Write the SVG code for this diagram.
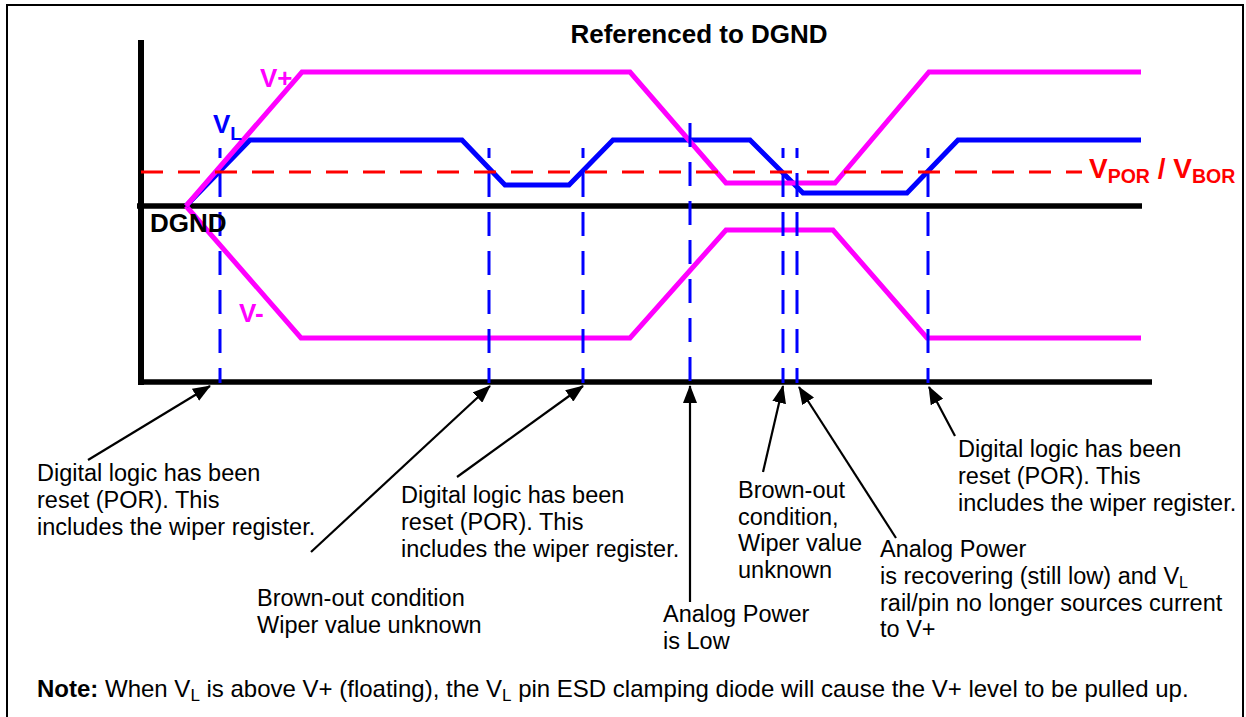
<svg xmlns="http://www.w3.org/2000/svg" width="1246" height="717" viewBox="0 0 1246 717">
<style>
text{font-family:"Liberation Sans",Arial,sans-serif;}
.lbl{font-size:26px;font-weight:bold;}
.ann{font-size:23.5px;fill:#000;}
.ax{stroke:#000;stroke-width:5.5;fill:none;}
.vp{stroke:#FF00FF;stroke-width:5;fill:none;stroke-linejoin:miter;}
.vl{stroke:#0000FF;stroke-width:5;fill:none;stroke-linejoin:miter;}
.mark{stroke:#0000FF;stroke-width:3;stroke-dasharray:24 15;fill:none;}
.thr{stroke:#FF0000;stroke-width:3;stroke-dasharray:22 15;fill:none;}
.arr{stroke:#000;stroke-width:2.2;fill:none;marker-end:url(#ah);}
</style>
<defs>
<marker id="ah" markerWidth="18" markerHeight="14" refX="17" refY="7" orient="auto" markerUnits="userSpaceOnUse"><path d="M0,0 L18,7 L0,14 z" fill="#000"/></marker>
</defs>
<rect x="0" y="0" width="1246" height="717" fill="#fff"/>
<rect id="frame" x="7" y="5" width="1236" height="730" fill="none" stroke="#000" stroke-width="2"/>

<g id="axes">
<line class="ax" x1="141" y1="40" x2="141" y2="385" style="stroke-width:6"/>
<line class="ax" x1="137" y1="206" x2="1142" y2="206"/>
<line class="ax" x1="138" y1="382" x2="1152" y2="382"/>
</g>

<g id="waveforms">
<polyline id="vminus" class="vp" points="186,206 301,338 630,338 726,230 833,230 927,338 1141,338"/>
<polyline id="vl" class="vl" points="186,206 250,140 462,140 505,185 569,185 613,140 750,140 803,193 907,193 958,140 1141,140"/>
<polyline id="vplus" class="vp" points="186,206 302,72 630,72 726,183 835,183 929,72 1141,72"/>
</g>

<g id="markers">
<line class="mark" x1="220" y1="148" x2="220" y2="383" stroke-dashoffset="14"/>
<line class="mark" x1="489" y1="148" x2="489" y2="383" stroke-dashoffset="14"/>
<line class="mark" x1="583" y1="148" x2="583" y2="383" stroke-dashoffset="14"/>
<line class="mark" x1="690" y1="123" x2="690" y2="383"/>
<line class="mark" x1="783" y1="148" x2="783" y2="383" stroke-dashoffset="14"/>
<line class="mark" x1="797" y1="148" x2="797" y2="383" stroke-dashoffset="14"/>
<line class="mark" x1="928" y1="148" x2="928" y2="383" stroke-dashoffset="14"/>
</g>

<g id="threshold">
<line class="thr" x1="141" y1="172" x2="1082" y2="172"/>
<text id="vpor" x="1089" y="178" class="lbl" style="font-size:28px" fill="#FF0000">V<tspan style="font-size:19.5px" dy="5">POR</tspan><tspan dy="-5"> / V</tspan><tspan style="font-size:19.5px" dy="5">BOR</tspan></text>
</g>

<g id="labels">
<text x="699" y="43" class="lbl" text-anchor="middle" fill="#000">Referenced to DGND</text>
<text x="260" y="87" class="lbl" fill="#FF00FF">V+</text>
<text x="213" y="133" class="lbl" fill="#0000FF">V<tspan style="font-size:19px" dy="7">L</tspan></text>
<text x="150" y="232" class="lbl" fill="#000">DGND</text>
<text x="239" y="322" class="lbl" fill="#FF00FF">V-</text>
</g>

<g id="connectors">
<line class="arr" x1="88" y1="460" x2="210" y2="386"/>
<line class="arr" x1="311" y1="552" x2="490" y2="386"/>
<line class="arr" x1="457" y1="477" x2="583" y2="386"/>
<line class="arr" x1="690" y1="602" x2="690" y2="386"/>
<line class="arr" x1="763" y1="472" x2="783" y2="386"/>
<line class="arr" x1="896" y1="538" x2="799" y2="387"/>
<line class="arr" x1="955" y1="436" x2="929" y2="387"/>
</g>

<g id="note1">
<text x="37" y="481" class="ann">Digital logic has been</text>
<text x="37" y="508" class="ann">reset (POR). This</text>
<text x="37" y="535" class="ann">includes the wiper register.</text>
</g>
<g id="note2">
<text x="257" y="606" class="ann">Brown-out condition</text>
<text x="257" y="633" class="ann">Wiper value unknown</text>
</g>
<g id="note3">
<text x="401" y="503" class="ann">Digital logic has been</text>
<text x="401" y="530" class="ann">reset (POR). This</text>
<text x="401" y="557" class="ann">includes the wiper register.</text>
</g>
<g id="note4">
<text x="663" y="622" class="ann">Analog Power</text>
<text x="663" y="649" class="ann">is Low</text>
</g>
<g id="note5">
<text x="738" y="498" class="ann">Brown-out</text>
<text x="738" y="524.5" class="ann">condition,</text>
<text x="738" y="551" class="ann">Wiper value</text>
<text x="738" y="577.5" class="ann">unknown</text>
</g>
<g id="note6">
<text x="880" y="557" class="ann">Analog Power</text>
<text x="880" y="584" class="ann">is recovering (still low) and V<tspan style="font-size:16px" dy="4">L</tspan></text>
<text x="880" y="611" class="ann">rail/pin no longer sources current</text>
<text x="880" y="637" class="ann">to V+</text>
</g>
<g id="note7">
<text x="958" y="457" class="ann">Digital logic has been</text>
<text x="958" y="484" class="ann">reset (POR). This</text>
<text x="958" y="511" class="ann">includes the wiper register.</text>
</g>

<g id="footnote">
<text x="37" y="697" class="ann" style="font-size:24px"><tspan font-weight="bold">Note:</tspan> When V<tspan style="font-size:17px" dy="4">L</tspan><tspan dy="-4"> is above V+ (floating), the V</tspan><tspan style="font-size:17px" dy="4">L</tspan><tspan dy="-4"> pin ESD clamping diode will cause the V+ level to be pulled up.</tspan></text>
</g>
</svg>
